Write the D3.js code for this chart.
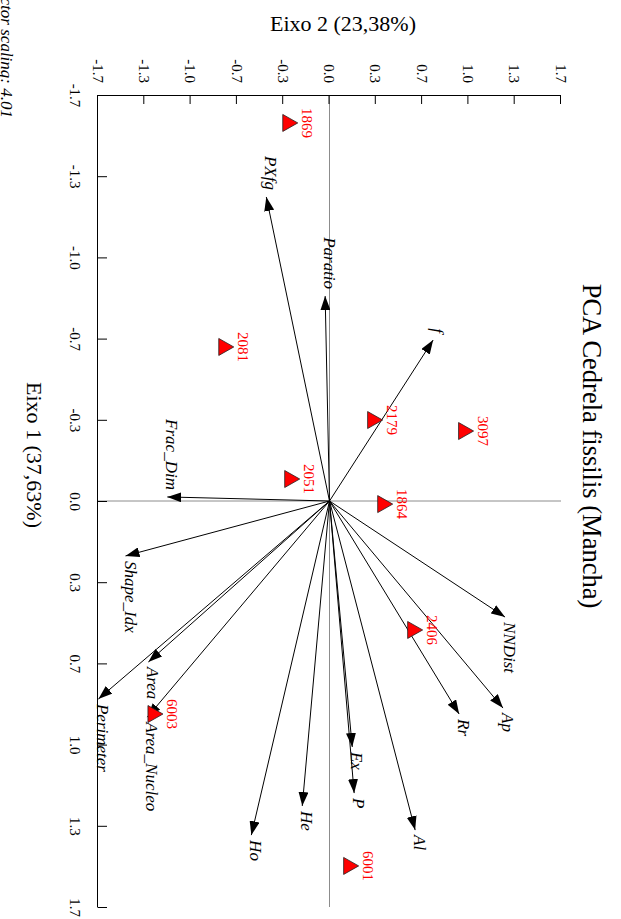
<!DOCTYPE html>
<html>
<head>
<meta charset="utf-8">
<script src="https://cdn.jsdelivr.net/npm/d3@7"></script>
<style>
  body { margin: 0; background: #fff; }
  svg { display: block; font-family: "Liberation Serif", "Times New Roman", serif; }
</style>
</head>
<body>
<svg id="canvas" width="621" height="919"></svg>
<script>
'use strict';

/* tick labels, shared by both axes */
const tickLabels = ['-1.7', '-1.3', '-1.0', '-0.7', '-0.3', '0.0', '0.3', '0.7', '1.0', '1.3', '1.7'];

/* variable vectors (Eixo 1, Eixo 2) */
const varNames = ['PXfg', 'Paratio', 'f', 'Frac_Dim', 'Shape_Idx', 'Perimeter', 'Area', 'Area_Nucleo',
  'NNDist', 'Ap', 'Rr', 'Ex', 'P', 'Al', 'He', 'Ho'];
const varAxis1 = [-1.273, -0.858, -0.674, -0.017, 0.230, 0.829, 0.674, 0.905,
  0.486, 0.867, 0.892, 1.030, 1.223, 1.378, 1.277, 1.399];
const varAxis2 = [-0.464, -0.032, 0.761, -1.191, -1.498, -1.697, -1.330, -1.337,
  1.289, 1.274, 0.952, 0.167, 0.181, 0.629, -0.200, -0.574];

/* sample scores (Eixo 1, Eixo 2) */
const sampleIds = ['1869', '2081', '2179', '3097', '2051', '1864', '2406', '6003', '6001'];
const sampleAxis1 = [-1.583, -0.645, -0.339, -0.293, -0.092, 0.013, 0.540, 0.892, 1.528];
const sampleAxis2 = [-0.288, -0.758, 0.335, 1.003, -0.274, 0.409, 0.629, -1.278, 0.159];

const title = 'PCA Cedrela fissilis (Mancha)';
const xTitle = 'Eixo 1 (37,63%)';
const yTitle = 'Eixo 2 (23,38%)';
const note = 'Vector scaling: 4.01';

/* the chart is drawn landscape (919x621) and turned a quarter clockwise */
const svg = d3.select('#canvas');
const g = svg.append('g').attr('transform', 'translate(621,0) rotate(90)');

let X = d3.scaleLinear().domain([-1.7, 1.7]).range([95, 907]);
let Y = d3.scaleLinear().domain([-1.7, 1.7]).range([523, 60]);
// ticks are evenly spaced over the range, labels come from tickLabels
let tickValues = d3.range(tickLabels.length).map(i => -1.7 + i * 3.4 / (tickLabels.length - 1));
const fmt = (d, i) => tickLabels[i];

/* zero lines */
g.append('line')
  .attr('x1', X(0)).attr('x2', X(0)).attr('y1', Y(1.7)).attr('y2', Y(-1.7))
  .attr('stroke', '#8c8c8c').attr('stroke-width', 1);
g.append('line')
  .attr('x1', X(-1.7)).attr('x2', X(1.7)).attr('y1', Y(0)).attr('y2', Y(0))
  .attr('stroke', '#8c8c8c').attr('stroke-width', 1);

/* axes */
let xAxis = d3.axisBottom(X).tickValues(tickValues).tickFormat(fmt)
  .tickSizeInner(-9).tickSizeOuter(0).tickPadding(17);
let yAxis = d3.axisLeft(Y).tickValues(tickValues).tickFormat(fmt)
  .tickSizeInner(-9).tickSizeOuter(0).tickPadding(12);

g.append('g').attr('transform', 'translate(0,' + Y(-1.7) + ')').call(xAxis);
g.append('g').attr('transform', 'translate(' + X(-1.7) + ',0)').call(yAxis);
g.selectAll('.tick text').attr('font-size', 15).attr('font-family', '"Liberation Serif", serif').attr('fill', '#000');
g.selectAll('.domain, .tick line').attr('stroke', '#000');

/* arrow heads */
svg.append('defs').append('marker')
  .attr('id', 'head')
  .attr('viewBox', '0 0 14 10')
  .attr('refX', 14).attr('refY', 5)
  .attr('markerUnits', 'userSpaceOnUse')
  .attr('markerWidth', 14).attr('markerHeight', 10)
  .attr('orient', 'auto')
  .append('path').attr('d', 'M0,0 L14,5 L0,10 Z').attr('fill', '#000');

let vectors = varNames.map((name, i) => ({ name: name, a1: varAxis1[i], a2: varAxis2[i] }));

g.append('g').selectAll('line')
  .data(vectors).enter().append('line')
  .attr('x1', X(0)).attr('y1', Y(0))
  .attr('x2', d => X(d.a1)).attr('y2', d => Y(d.a2))
  .attr('stroke', '#000').attr('stroke-width', 1)
  .attr('marker-end', 'url(#head)');

g.append('g').selectAll('text')
  .data(vectors).enter().append('text')
  .attr('x', d => X(d.a1) + (d.a1 < 0 ? -7 : 5))
  .attr('y', d => Y(d.a2) + 1)
  .attr('text-anchor', d => d.a1 < 0 ? 'end' : 'start')
  .attr('font-style', 'italic')
  .attr('font-size', 17)
  .text(d => d.name);

/* samples */
let samples = sampleIds.map((id, i) => ({ id: id, a1: sampleAxis1[i], a2: sampleAxis2[i] }));

let pts = g.append('g').selectAll('g')
  .data(samples).enter().append('g')
  .attr('transform', d => 'translate(' + X(d.a1) + ',' + Y(d.a2) + ')');
pts.append('path')
  .attr('d', 'M0,-7.5 L8.5,7.5 L-8.5,7.5 Z')
  .attr('fill', '#ff0000').attr('stroke', '#222').attr('stroke-width', 0.8);
pts.append('text')
  .attr('y', -11.5)
  .attr('text-anchor', 'middle')
  .attr('font-size', 15)
  .attr('fill', '#ff0000')
  .text(d => d.id);

/* titles */
g.append('text')
  .attr('x', 446).attr('y', 38)
  .attr('text-anchor', 'middle')
  .attr('font-size', 26.5)
  .text(title);
g.append('text')
  .attr('x', 455).attr('y', 594)
  .attr('text-anchor', 'middle')
  .attr('font-size', 22)
  .text(xTitle);
g.append('text')
  .attr('transform', 'translate(31,' + 278 + ') rotate(-90)')
  .attr('text-anchor', 'middle')
  .attr('font-size', 22)
  .text(yTitle);
// the reference crops this note at the sheet edge
g.append('text')
  .attr('x', 118).attr('y', 620)
  .attr('text-anchor', 'end')
  .attr('font-style', 'italic')
  .attr('font-size', 17)
  .text(note);
</script>
</body>
</html>
